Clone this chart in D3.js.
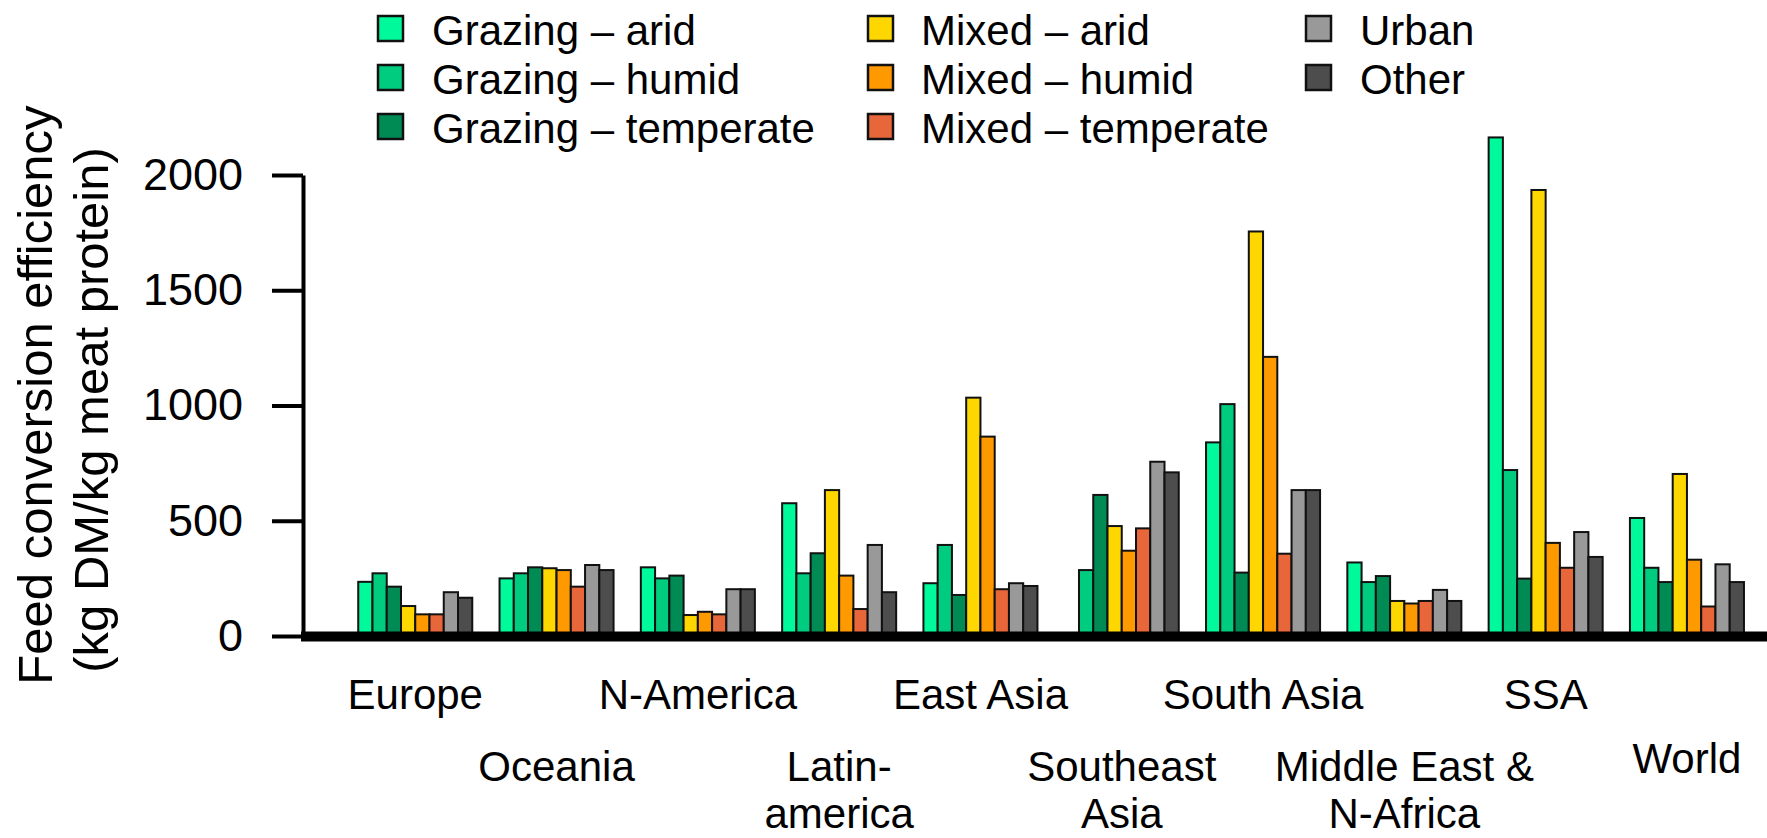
<!DOCTYPE html>
<html>
<head>
<meta charset="utf-8">
<script src="https://cdn.jsdelivr.net/npm/d3@7/dist/d3.min.js"></script>
<style>
  html, body { margin: 0; padding: 0; background: #fff; }
  svg { display: block; font-family: "Liberation Sans", Arial, Helvetica, sans-serif; }
</style>
</head>
<body>
<svg id="chart" width="1767" height="838"></svg>
<script>
// Regions along the x axis (label lines drawn under each group)
const regions = ["Europe", "Oceania", "N-America", "Latin-america", "East Asia",
                 "Southeast Asia", "South Asia", "Middle East & N-Africa", "SSA", "World"];
const regionLabelLines = [["Europe"], ["Oceania"], ["N-America"], ["Latin-", "america"], ["East Asia"],
                          ["Southeast", "Asia"], ["South Asia"], ["Middle East &", "N-Africa"], ["SSA"], ["World"]];

// Production systems (one bar each per region)
const systems = ["Grazing – arid", "Grazing – humid", "Grazing – temperate",
                 "Mixed – arid", "Mixed – humid", "Mixed – temperate", "Urban", "Other"];

// Feed conversion efficiency, kg DM / kg meat protein, per system (same order as regions)
const grazingArid       = [235,  250, 298, 576,  229,   0,  840, 319, 2163, 512];
const grazingHumid      = [272,  272, 250, 272,  395, 286, 1006, 234,  720, 296];
const grazingTemperate  = [214,  298, 262, 359,  178, 612,  275, 260,  249, 234];
const mixedArid         = [130,  294,  91, 633, 1034, 477, 1755, 152, 1935, 703];
const mixedHumid        = [ 94,  286, 105, 262,  865, 370, 1211, 141,  404, 331];
const mixedTemperate    = [ 94,  214,  94, 117,  203, 467,  357, 152,  296, 128];
const urban             = [190,  308, 203, 395,  229, 756,  633, 200,  451, 311];
const other             = [166,  286, 203, 190,  217, 710,  633, 152,  343, 234];

const yTicks = [0, 500, 1000, 1500, 2000];

const seriesValues = [grazingArid, grazingHumid, grazingTemperate, mixedArid,
                      mixedHumid, mixedTemperate, urban, other];

const colors = ["#00F99A", "#00CC80", "#008B55", "#FFD700", "#FF9900", "#E8673A", "#999999", "#4D4D4D"];

const svg = d3.select("#chart");

// Scales
const y = d3.scaleLinear().domain([0, 2000]).range([636, 175]);
const x0 = d3.scaleBand().domain(regions).range([344.6, 1757.6])
  .paddingInner(0.193).paddingOuter(0.0965);
const x1 = d3.scaleBand().domain(systems).range([0, x0.bandwidth()]);
const color = d3.scaleOrdinal().domain(systems).range(colors);

// Bars
const rows = regions.map((r, i) => ({
  region: r,
  values: systems.map((s, j) => ({ system: s, value: seriesValues[j][i] }))
}));

const groups = svg.append("g").selectAll("g")
  .data(rows).join("g")
  .attr("transform", d => `translate(${x0(d.region)},0)`);

groups.selectAll("rect")
  .data(d => d.values).join("rect")
  .attr("x", d => x1(d.system))
  .attr("y", d => y(d.value))
  .attr("width", x1.bandwidth())
  .attr("height", d => y(0) - y(d.value))
  .attr("fill", d => color(d.system))
  .attr("stroke", "#111")
  .attr("stroke-width", 2);

// Y axis
const yAxis = svg.append("g")
  .attr("transform", "translate(303,0)")
  .call(d3.axisLeft(y).tickValues(yTicks).tickFormat(d3.format("d"))
    .tickSize(31).tickSizeOuter(0).tickPadding(29));
yAxis.select(".domain").attr("stroke", "#000").attr("stroke-width", 4);
yAxis.selectAll(".tick line").attr("stroke", "#000").attr("stroke-width", 4);
yAxis.selectAll(".tick text")
  .attr("font-size", 45).attr("fill", "#000")
  .attr("font-family", "'Liberation Sans', Arial, sans-serif");

// Thick baseline
svg.append("line")
  .attr("x1", 301).attr("x2", 1767)
  .attr("y1", y(0) + 0.5).attr("y2", y(0) + 0.5)
  .attr("stroke", "#000").attr("stroke-width", 10);

// Y axis title (two lines)
const titleLines = [
  { text: "Feed conversion efficiency", x: 52, cy: 395 },
  { text: "(kg DM/kg meat protein)", x: 108, cy: 410 }
];
svg.append("g").selectAll("text")
  .data(titleLines).join("text")
  .attr("transform", d => `translate(${d.x},${d.cy}) rotate(-90)`)
  .attr("text-anchor", "middle")
  .attr("font-size", 49)
  .attr("fill", "#000")
  .text(d => d.text);

// Region labels, alternating between two rows
const labelG = svg.append("g");
regions.forEach((r, i) => {
  const cx = x0(r) + x0.bandwidth() / 2;
  let base = i % 2 === 0 ? 709 : 781;
  if (r === "World") base -= 8;
  const t = labelG.append("text")
    .attr("text-anchor", "middle")
    .attr("font-size", 42)
    .attr("fill", "#000");
  regionLabelLines[i].forEach((line, k) => {
    t.append("tspan").attr("x", cx).attr("y", base + k * 47).text(line);
  });
});

// Legend: three columns
const legendCols = [
  { sq: 378, tx: 432 },
  { sq: 868, tx: 921 },
  { sq: 1306, tx: 1360 }
];
const legendBaselines = [45, 94, 143];
const legend = svg.append("g");
systems.forEach((s, i) => {
  const col = legendCols[Math.floor(i / 3)];
  const base = legendBaselines[i % 3];
  legend.append("rect")
    .attr("x", col.sq).attr("y", base - 29)
    .attr("width", 25).attr("height", 25)
    .attr("fill", color(s))
    .attr("stroke", "#111").attr("stroke-width", 2.5);
  legend.append("text")
    .attr("x", col.tx).attr("y", base)
    .attr("font-size", 42).attr("fill", "#000")
    .text(s);
});
</script>
</body>
</html>
